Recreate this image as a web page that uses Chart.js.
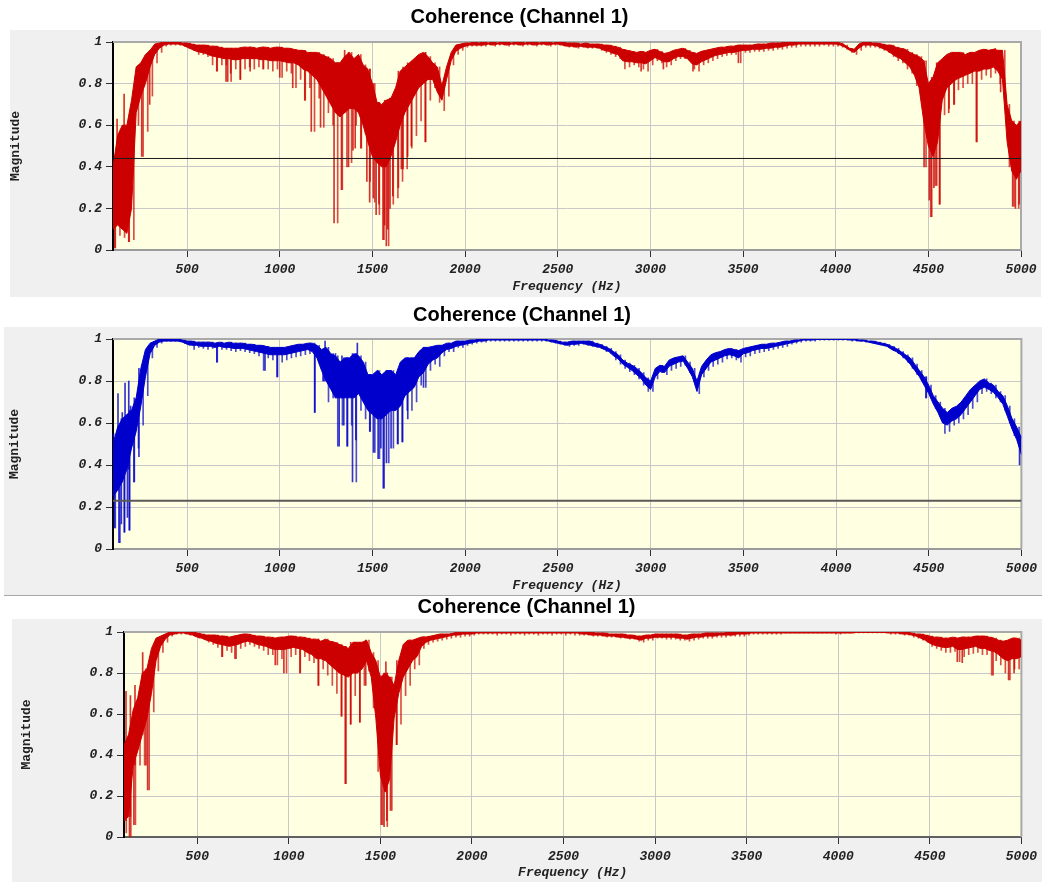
<!DOCTYPE html>
<html>
<head>
<meta charset="utf-8">
<script src="https://cdn.jsdelivr.net/npm/chart.js@4.4.1/dist/chart.umd.min.js"></script>
<style>
  html, body { margin: 0; padding: 0; background: #ffffff; }
  body { width: 1042px; height: 882px; position: relative; overflow: hidden; }
  canvas { position: absolute; left: 0; }
</style>
</head>
<body>
<canvas id="c1" width="1042" height="298" style="top:0px"></canvas>
<canvas id="c2" width="1042" height="298" style="top:298px"></canvas>
<canvas id="c3" width="1042" height="286" style="top:596px"></canvas>
<script>
// Frequency bins (Hz). Per bin: upper edge of the dense band, lower edge of the dense band,
// and the deepest excursion of the trace inside the bin.
const binStartHz = 100;
const binStepHz = 25;

const xTickValues = [500, 1000, 1500, 2000, 2500, 3000, 3500, 4000, 4500, 5000];
const yTickValues = [0, 0.2, 0.4, 0.6, 0.8, 1];
const yTickLabels = ['0', '0.2', '0.4', '0.6', '0.8', '1'];

const chartTitles = ['Coherence (Channel 1)', 'Coherence (Channel 1)', 'Coherence (Channel 1)'];
const xAxisTitle = 'Frequency (Hz)';
const yAxisTitle = 'Magnitude';

// Reference level per plot; null = none
const thresholds = [0.44, 0.23, null];

// ---------- Plot 1 (red) ----------
const ch1Top = [
  .40,.55,.60,.60,.72,.88,.90,.94,.96,.99,.995,1,1,1,1,.995,.995,.99,.985,.985,
  .985,.98,.98,.975,.97,.97,.97,.97,.975,.975,.975,.97,.975,.975,.97,.975,.975,.97,.97,.965,
  .96,.96,.95,.95,.95,.94,.93,.92,.90,.90,.93,.95,.92,.94,.89,.87,.80,.71,.70,.72,
  .73,.78,.86,.88,.90,.92,.94,.95,.93,.90,.88,.79,.88,.95,.985,.99,.995,.995,1,.995,
  1,.995,1,.995,1,1,.995,1,1,.995,1,1,.995,1,1,.995,1,1,.995,.995,
  .995,.99,.995,.99,.99,.99,.985,.985,.98,.975,.965,.96,.955,.95,.955,.95,.96,.965,.955,.945,
  .95,.96,.965,.97,.96,.95,.945,.955,.96,.965,.97,.975,.975,.98,.98,.985,.985,.985,.985,.99,
  .99,.99,.995,.995,.995,1,1,1,1,1,1,1,1,1,1,1,1,.995,.985,.97,
  .965,.99,1,1,.995,.995,.99,.985,.985,.975,.97,.965,.95,.94,.93,.91,.80,.83,.90,.92,
  .94,.95,.95,.95,.94,.95,.95,.96,.965,.96,.965,.96,.96,.70,.62,.60,.62
];
const ch1Bottom = [
  .10,.12,.10,.08,.20,.66,.74,.80,.88,.94,.97,.985,.99,.99,.99,.985,.975,.965,.955,.95,
  .945,.935,.93,.925,.92,.92,.915,.915,.92,.92,.92,.92,.915,.915,.91,.91,.91,.905,.90,.90,
  .89,.87,.86,.84,.82,.78,.74,.70,.66,.64,.66,.68,.68,.66,.60,.52,.45,.42,.40,.40,
  .45,.52,.60,.66,.70,.74,.78,.80,.82,.82,.76,.72,.82,.91,.955,.97,.98,.985,.985,.985,
  .985,.99,.985,.99,.99,.985,.99,.99,.985,.99,.99,.985,.99,.99,.985,.99,.99,.985,.98,.98,
  .975,.98,.975,.975,.975,.97,.96,.955,.945,.94,.91,.905,.905,.90,.90,.895,.91,.925,.915,.905,
  .905,.92,.93,.93,.92,.895,.89,.905,.915,.925,.935,.94,.945,.95,.95,.955,.96,.96,.965,.965,
  .965,.97,.97,.975,.975,.98,.985,.985,.99,.99,.99,.99,.99,.99,.99,.99,.99,.985,.975,.96,
  .95,.97,.985,.985,.985,.98,.97,.96,.945,.93,.92,.90,.88,.84,.78,.62,.50,.45,.52,.72,
  .78,.80,.82,.83,.84,.85,.86,.86,.87,.87,.88,.86,.82,.52,.38,.34,.38
];
const ch1Dip = [
  .01,.07,.06,.04,.05,.60,.45,.57,.74,.90,.95,.98,.985,.985,.985,.98,.97,.96,.94,.94,
  .93,.89,.86,.89,.89,.81,.87,.82,.87,.88,.87,.88,.87,.87,.86,.87,.83,.86,.85,.78,
  .82,.72,.78,.57,.73,.59,.66,.60,.13,.29,.40,.42,.60,.49,.56,.33,.23,.17,.05,.02,
  .22,.25,.33,.39,.49,.55,.62,.52,.72,.78,.71,.67,.74,.89,.94,.96,.975,.98,.98,.98,
  .98,.985,.98,.985,.985,.98,.985,.985,.98,.985,.985,.98,.985,.985,.98,.985,.985,.98,.975,.975,
  .97,.975,.97,.97,.97,.96,.95,.94,.93,.92,.87,.88,.89,.88,.87,.86,.89,.91,.90,.88,
  .89,.91,.92,.92,.91,.87,.86,.89,.90,.91,.92,.93,.935,.94,.94,.90,.95,.95,.955,.955,
  .955,.96,.96,.965,.965,.97,.975,.975,.98,.98,.98,.98,.98,.985,.98,.98,.98,.975,.965,.95,
  .94,.96,.975,.975,.975,.97,.96,.95,.93,.91,.90,.87,.85,.79,.75,.40,.16,.31,.22,.65,
  .68,.70,.77,.78,.80,.80,.52,.82,.84,.83,.85,.80,.72,.40,.21,.20,.25
];
// isolated spikes: frequency (Hz) and magnitude reached
const ch1SpikeHz = [110,122,160,185,255,298,660,710,719,735,787,840,910,1000,1070,1135,1170,1220,1293,1333,1350,1371,1395,1407,1440,1470,1485,1505,1520,1535,1557,1566,1575,1583,1595,1610,1640,1656,1665,1690,1710,1785,2950,3070,3230,3475,4477,4505,4518,4530,4545,4560,4610,4640,4759,4860,4890,4955,4970,4990];
const ch1SpikeMag = [.01,.63,.75,.04,.45,.70,.86,.81,.81,.85,.82,.86,.87,.83,.78,.72,.57,.59,.13,.29,.96,.40,.48,.49,.49,.33,.23,.25,.17,.22,.05,.12,.02,.10,.20,.26,.30,.39,.39,.45,.50,.52,.86,.87,.86,.90,.40,.24,.16,.30,.31,.22,.66,.70,.52,.97,.76,.21,.20,.22];

// ---------- Plot 2 (blue) ----------
const ch2Top = [
  .50,.58,.62,.64,.66,.72,.86,.95,.98,.99,1,1,1,1,1,.995,.99,.99,.985,.985,
  .985,.985,.98,.985,.98,.985,.98,.98,.98,.975,.975,.97,.97,.965,.96,.96,.96,.96,.965,.97,
  .975,.975,.98,.98,.97,.95,.96,.93,.92,.89,.91,.91,.93,.92,.89,.83,.83,.85,.83,.85,
  .85,.83,.89,.91,.91,.91,.94,.96,.96,.965,.97,.97,.98,.98,.99,.99,.99,.995,.995,1,
  1,1,1,1,1,1,1,1,1,1,1,1,1,1,.995,.995,.99,.985,.985,.99,
  .99,.99,.99,.99,.98,.975,.965,.955,.94,.925,.90,.885,.875,.86,.84,.815,.80,.86,.875,.87,
  .90,.91,.915,.92,.89,.86,.80,.87,.90,.925,.935,.94,.95,.955,.95,.945,.955,.96,.965,.97,
  .975,.975,.98,.98,.985,.99,.99,.995,.995,1,1,1,1,1,1,1,1,1,1,1,
  1,.995,.995,.99,.99,.985,.98,.975,.965,.955,.94,.925,.91,.88,.85,.82,.78,.73,.70,.67,
  .65,.67,.68,.70,.73,.76,.78,.80,.81,.79,.78,.75,.73,.68,.62,.58,.53
];
const ch2Bottom = [
  .25,.28,.32,.38,.48,.56,.68,.82,.93,.97,.985,.99,.99,.99,.99,.985,.975,.97,.97,.965,
  .965,.965,.96,.965,.96,.96,.955,.955,.955,.95,.945,.94,.935,.93,.925,.925,.925,.925,.93,.935,
  .94,.945,.95,.94,.91,.85,.80,.76,.72,.72,.72,.72,.72,.74,.70,.66,.64,.62,.62,.64,
  .66,.66,.68,.73,.75,.77,.82,.84,.88,.90,.91,.935,.95,.955,.965,.97,.975,.98,.985,.99,
  .99,.995,.995,.995,.995,.995,.995,.995,.995,.995,.995,.995,.995,.995,.99,.985,.98,.975,.97,.975,
  .975,.98,.975,.97,.965,.96,.95,.94,.92,.905,.88,.865,.85,.83,.81,.78,.76,.82,.845,.84,
  .87,.88,.89,.895,.86,.82,.75,.83,.86,.89,.90,.91,.92,.925,.92,.91,.93,.935,.945,.95,
  .955,.955,.96,.965,.97,.975,.98,.985,.99,.995,.995,.995,.998,.998,.998,.998,.998,.998,.998,.995,
  .995,.99,.99,.985,.98,.975,.97,.965,.95,.94,.925,.905,.88,.85,.82,.78,.74,.69,.65,.60,
  .59,.61,.62,.64,.67,.70,.73,.76,.77,.76,.745,.72,.69,.63,.57,.52,.45
];
const ch2Dip = [
  .10,.03,.08,.09,.32,.48,.59,.73,.91,.96,.98,.99,.99,.99,.99,.98,.97,.95,.96,.955,
  .95,.955,.89,.95,.95,.945,.94,.945,.94,.935,.93,.92,.85,.91,.90,.82,.89,.90,.91,.915,
  .92,.925,.93,.65,.90,.80,.70,.72,.49,.59,.49,.59,.32,.66,.62,.56,.46,.43,.29,.41,
  .48,.50,.51,.66,.66,.70,.78,.77,.85,.88,.87,.92,.94,.94,.96,.96,.97,.975,.98,.985,
  .985,.99,.99,.99,.99,.99,.99,.99,.99,.99,.99,.99,.99,.99,.985,.98,.975,.97,.965,.97,
  .97,.975,.97,.965,.96,.955,.94,.93,.90,.88,.86,.845,.83,.81,.78,.75,.75,.81,.84,.83,
  .85,.86,.87,.875,.84,.80,.74,.82,.85,.87,.88,.89,.905,.91,.90,.89,.915,.92,.93,.935,
  .94,.945,.95,.955,.96,.965,.975,.98,.985,.99,.99,.99,.995,.995,.995,.995,.995,.995,.995,.99,
  .99,.99,.985,.985,.98,.975,.97,.96,.945,.93,.91,.89,.86,.83,.80,.72,.72,.67,.63,.55,
  .56,.59,.60,.62,.64,.67,.70,.74,.75,.74,.72,.70,.66,.60,.54,.49,.40
];
const ch2SpikeHz = [103,108,127,132,145,150,161,165,178,185,190,195,215,240,660,920,985,1189,1233,1244,1300,1320,1335,1345,1365,1392,1410,1418,1485,1505,1530,1545,1558,1575,1600,1635,1660,1690,1775,4485,4990];
const ch2SpikeMag = [.55,.10,.74,.03,.12,.65,.08,.79,.15,.80,.09,.68,.32,.44,.89,.85,.82,.65,.80,.99,.93,.49,.92,.59,.49,.32,.52,.98,.56,.46,.43,.48,.29,.41,.48,.50,.51,.62,.77,.72,.40];

// ---------- Plot 3 (red) ----------
const ch3Top = [
  .45,.50,.62,.68,.80,.82,.92,.97,.98,.99,1,1,1,1,1,1,.995,.99,.985,.985,
  .985,.98,.98,.975,.98,.985,.99,.99,.985,.98,.98,.975,.975,.97,.975,.975,.98,.98,.975,.975,
  .97,.965,.965,.955,.965,.955,.95,.94,.93,.92,.95,.95,.95,.96,.90,.86,.78,.80,.78,.74,
  .86,.94,.96,.96,.968,.976,.976,.98,.985,.99,.99,.99,.995,1,1,1,1,1,1,1,
  1,1,1,1,1,1,1,1,1,1,1,1,1,1,1,1,1,1,1,1,
  1,1,1,.995,.995,.995,.99,.99,.99,.99,.985,.985,.98,.98,.985,.985,.99,.99,.99,.99,
  .99,.99,.985,.985,.99,.99,.99,.995,.995,.995,.995,.995,1,1,1,1,1,1,1,1,
  1,1,1,1,1,1,1,1,1,1,1,1,1,1,1,1,1,1,1,1,
  1,1,1,1,1,1,1,1,1,1,1,1,.995,.99,.99,.985,.98,.975,.975,.97,
  .97,.975,.97,.975,.975,.975,.98,.98,.98,.975,.97,.96,.955,.96,.97,.97,.96
];
const ch3Bottom = [
  .08,.10,.35,.42,.50,.58,.70,.86,.93,.965,.985,.99,.995,.995,.99,.985,.975,.97,.96,.955,
  .945,.94,.935,.93,.935,.94,.95,.955,.95,.94,.935,.93,.92,.915,.915,.915,.92,.925,.92,.915,
  .90,.89,.87,.87,.86,.84,.82,.80,.79,.78,.80,.80,.82,.86,.78,.58,.30,.22,.28,.58,
  .70,.78,.82,.86,.88,.93,.95,.96,.965,.97,.975,.98,.985,.985,.99,.99,.99,.995,.995,.995,
  .995,.995,.995,.995,.995,.995,.995,.995,.995,.995,.995,.995,.995,.995,.995,.995,.995,.995,.995,.995,
  .99,.99,.985,.985,.985,.98,.98,.98,.975,.975,.97,.97,.965,.96,.97,.97,.975,.975,.975,.975,
  .975,.97,.97,.965,.97,.975,.975,.98,.98,.98,.985,.985,.985,.985,.99,.99,.99,.995,.995,.995,
  .995,.995,.995,.995,.995,.995,.995,.995,.995,.995,.995,.995,.995,.995,.995,.995,.995,.995,.995,.995,
  .998,.998,.998,.998,.998,.998,.998,.995,.995,.995,.99,.99,.985,.98,.97,.96,.945,.935,.93,.925,
  .925,.93,.915,.915,.92,.925,.93,.92,.92,.91,.905,.89,.87,.86,.87,.87,.88
];
const ch3Dip = [
  .02,.00,.06,.35,.35,.23,.61,.81,.90,.95,.98,.99,.99,.99,.985,.98,.97,.965,.95,.94,
  .925,.88,.91,.90,.87,.92,.93,.94,.93,.92,.91,.89,.89,.84,.87,.80,.88,.89,.80,.88,
  .86,.85,.74,.82,.79,.74,.70,.59,.26,.55,.69,.56,.74,.81,.63,.32,.06,.05,.13,.45,
  .55,.69,.74,.82,.84,.92,.94,.95,.955,.96,.965,.97,.975,.975,.98,.98,.985,.99,.99,.99,
  .99,.985,.99,.99,.985,.99,.99,.985,.99,.99,.985,.99,.99,.985,.99,.99,.985,.99,.985,.985,
  .985,.985,.98,.98,.98,.975,.975,.975,.97,.97,.965,.965,.955,.95,.96,.96,.97,.97,.965,.965,
  .965,.96,.96,.955,.96,.965,.97,.97,.97,.975,.975,.975,.98,.98,.98,.98,.985,.99,.99,.99,
  .99,.99,.99,.99,.995,.995,.995,.995,.995,.995,.995,.995,.995,.995,.995,.99,.99,.995,.995,.995,
  .995,.995,.995,.995,.995,.995,.995,.99,.99,.99,.985,.985,.975,.97,.96,.95,.93,.92,.91,.90,
  .90,.905,.855,.88,.89,.895,.90,.89,.89,.79,.86,.84,.80,.766,.82,.82,.84
];
const ch3SpikeHz = [111,130,135,154,160,202,220,229,635,706,926,973,1061,1161,1288,1308,1338,1388,1420,1505,1520,1530,1535,1555,1590,4650,4677,4845,4930,4960];
const ch3SpikeMag = [.71,.00,.69,.06,.74,.90,.35,.23,.88,.87,.84,.80,.80,.74,.59,.26,.55,.56,.74,.06,.05,.855,.08,.13,.45,.855,.85,.79,.766,.80];

// Band edges as points on the frequency axis.
function edgePoints(values) {
  return values.map((v, i) => ({ x: binStartHz + i * binStepHz, y: v }));
}

// One floating bar per bin, from the bin's deepest excursion up to the band's upper edge.
function dipBars(top, dip) {
  return dip.map((v, i) => ({ x: binStartHz + i * binStepHz + binStepHz / 2, y: [v, top[i]] }));
}

// Isolated spikes: from the band edge of the spike's bin out to the spike magnitude.
function spikeBars(hz, mag, top, bottom) {
  return hz.map((f, k) => {
    const bin = Math.min(top.length - 1, Math.round((f - binStartHz) / binStepHz));
    const base = mag[k] < bottom[bin] ? top[bin] : bottom[bin];
    return { x: f, y: [mag[k], base] };
  });
}

// Panel frame, plot background and plot outline
const panelBg = {
  id: 'panelBg',
  beforeDraw(chart, args, o) {
    const { ctx, chartArea: a } = chart;
    ctx.save();
    ctx.fillStyle = '#ffffff';
    ctx.fillRect(0, 0, chart.width, chart.height);
    ctx.fillStyle = '#f0f0f0';
    ctx.fillRect(o.x, o.y, o.w, o.h);
    if (o.bottomEdge) {
      ctx.fillStyle = '#a8a8a8';
      ctx.fillRect(o.x, o.y + o.h - 1, o.w, 1);
    }
    ctx.fillStyle = '#ffffe1';
    ctx.fillRect(a.left, a.top, a.right - a.left, a.bottom - a.top);
    ctx.restore();
  },
  beforeDatasetsDraw(chart) {
    const { ctx, chartArea: a } = chart;
    ctx.save();
    ctx.strokeStyle = '#a9a9a9';
    ctx.lineWidth = 2;
    ctx.beginPath();
    ctx.moveTo(a.left, a.top);
    ctx.lineTo(a.right, a.top);
    ctx.lineTo(a.right, a.bottom);
    ctx.stroke();
    ctx.restore();
  }
};

const tickFont = { family: "'Liberation Mono', 'DejaVu Sans Mono', monospace", size: 13, weight: 'bold', style: 'italic', lineHeight: 1.2 };
const axisTitleFont = { family: "'Liberation Mono', 'DejaVu Sans Mono', monospace", size: 13, weight: 'bold', lineHeight: 1.2 };
const titleFont = { family: "'Liberation Sans', Arial, sans-serif", size: 20, weight: 'bold', lineHeight: 1 };

// padLeft sets where the panel title is centred; the y-axis box fills the rest up to plot.l
const panels = [
  { id: 'c1', top: ch1Top, bottom: ch1Bottom, dip: ch1Dip, spikeHz: ch1SpikeHz, spikeMag: ch1SpikeMag,
    color: '#cc0000', dipColor: 'rgba(204,0,0,0.7)', spikeColor: 'rgba(204,0,0,0.8)',
    threshold: thresholds[0], thrColor: '#1a1a1a', thrWidth: 1,
    frame: { x: 10, y: 30, w: 1031, h: 267, bottomEdge: false },
    plot: { l: 113, r: 1021, t: 42, b: 250 }, padLeft: 18, titleTop: 7, xTitlePad: 3, yTitlePad: -9.8, xBorder: '#9a9a9a' },
  { id: 'c2', top: ch2Top, bottom: ch2Bottom, dip: ch2Dip, spikeHz: ch2SpikeHz, spikeMag: ch2SpikeMag,
    color: '#0000cc', dipColor: 'rgba(0,0,204,0.7)', spikeColor: 'rgba(0,0,204,0.8)',
    threshold: thresholds[1], thrColor: '#5a5a5a', thrWidth: 2,
    frame: { x: 4, y: 29, w: 1038, h: 269, bottomEdge: true },
    plot: { l: 113, r: 1024, t: 41, b: 251 }, padLeft: 20, titleTop: 7, xTitlePad: 2, yTitlePad: -12.8, xBorder: '#9a9a9a' },
  { id: 'c3', top: ch3Top, bottom: ch3Bottom, dip: ch3Dip, spikeHz: ch3SpikeHz, spikeMag: ch3SpikeMag,
    color: '#cc0000', dipColor: 'rgba(204,0,0,0.7)', spikeColor: 'rgba(204,0,0,0.8)',
    threshold: thresholds[2], thrColor: '#1a1a1a', thrWidth: 1,
    frame: { x: 12, y: 23, w: 1030, h: 263, bottomEdge: false },
    plot: { l: 124, r: 1022, t: 36, b: 241 }, padLeft: 31, titleTop: 1, xTitlePad: 1, yTitlePad: -11.8, xBorder: '#606060' }
];

panels.forEach((p, idx) => {
  const canvas = document.getElementById(p.id);
  const W = canvas.width, H = canvas.height;
  const datasets = [
    { // upper edge of the dense band
      data: edgePoints(p.top),
      borderColor: p.color, borderWidth: 1, pointRadius: 0, tension: 0, fill: false, order: 3
    },
    { // lower edge, filled up to the upper edge
      data: edgePoints(p.bottom),
      borderColor: p.color, borderWidth: 1, pointRadius: 0, tension: 0,
      fill: '-1', backgroundColor: p.color, order: 3
    },
    { // per-bin excursions below the band
      type: 'bar',
      data: dipBars(p.top, p.dip),
      backgroundColor: p.dipColor, barThickness: 1, grouped: false, order: 2
    },
    { // isolated spikes
      type: 'bar',
      data: spikeBars(p.spikeHz, p.spikeMag, p.top, p.bottom),
      backgroundColor: p.spikeColor, barThickness: 1, grouped: false, order: 1
    }
  ];
  if (p.threshold !== null) {
    datasets.push({
      data: [{ x: binStartHz, y: p.threshold }, { x: 5000, y: p.threshold }],
      borderColor: p.thrColor, borderWidth: p.thrWidth, pointRadius: 0, fill: false, order: 0
    });
  }
  new Chart(canvas, {
    type: 'line',
    data: { datasets },
    plugins: [panelBg],
    options: {
      responsive: false,
      animation: false,
      devicePixelRatio: 1,
      layout: { padding: { left: p.padLeft, right: W - p.plot.r, top: 0, bottom: 0 } },
      plugins: {
        legend: { display: false },
        tooltip: { enabled: false },
        panelBg: p.frame,
        title: {
          display: true,
          text: chartTitles[idx],
          color: '#000000',
          font: titleFont,
          padding: { top: p.titleTop, bottom: p.plot.t - p.titleTop - titleFont.size }
        }
      },
      scales: {
        x: {
          type: 'linear',
          min: binStartHz,
          max: 5000,
          offset: false,
          afterBuildTicks: s => { s.ticks = xTickValues.map(v => ({ value: v })); },
          afterFit: s => { s.height = H - p.plot.b; },
          grid: { color: '#c8c8c8', lineWidth: 1, tickColor: '#303030', tickLength: 7, offset: false },
          border: { color: p.xBorder, width: 2 },
          ticks: { color: '#222222', font: tickFont, padding: 5, maxRotation: 0, autoSkip: false,
                   callback: v => String(v) },
          title: { display: true, text: xAxisTitle, color: '#222222', font: tickFont,
                   padding: { top: 0, bottom: p.xTitlePad } }
        },
        y: {
          type: 'linear',
          min: 0,
          max: 1,
          afterBuildTicks: s => { s.ticks = yTickValues.map(v => ({ value: v })); },
          afterFit: s => { s.width = p.plot.l - p.padLeft; },
          grid: { color: '#c8c8c8', lineWidth: 1, tickColor: '#303030', tickLength: 7 },
          border: { color: '#000000', width: 2 },
          ticks: { color: '#222222', font: tickFont, padding: 4,
                   callback: (v, i) => yTickLabels[i] },
          title: { display: true, text: yAxisTitle, color: '#222222', font: axisTitleFont,
                   padding: { top: p.yTitlePad, bottom: 0 } }
        }
      }
    }
  });
});
</script>
</body>
</html>
